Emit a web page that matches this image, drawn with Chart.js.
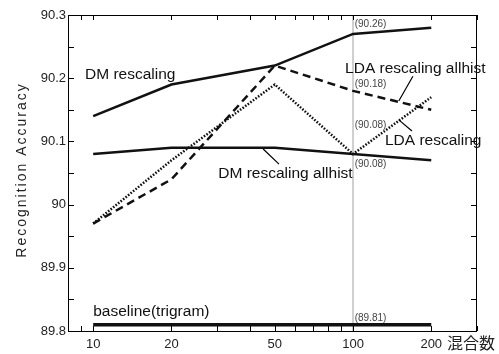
<!DOCTYPE html>
<html>
<head>
<meta charset="utf-8">
<script src="https://cdn.jsdelivr.net/npm/chart.js@4.4.1/dist/chart.umd.min.js"></script>
<style>
  html, body { margin: 0; padding: 0; background: #fff; }
  #wrap { width: 499px; height: 354px; }
</style>
</head>
<body>
<div id="wrap"><canvas id="chart"></canvas></div>
<script>
// mixture counts (x, log scale)
const mixtures = [10, 20, 50, 100, 200];

// recognition accuracy per method
const dmRescaling = [90.14, 90.19, 90.22, 90.27, 90.28];
const dmRescalingAllhist = [90.08, 90.09, 90.09, 90.08, 90.07];
const ldaRescaling = [89.97, 90.07, 90.19, 90.08, 90.17];
const ldaRescalingAllhist = [89.97, 90.04, 90.22, 90.18, 90.15];
const baseline = [89.81, 89.81, 89.81, 89.81, 89.81];

// ticks
const xTicks = [8, 9, 10, 20, 30, 40, 50, 60, 70, 80, 90, 100, 200, 300];
const xTickLabels = [10, 20, 50, 100, 200];
const yTicks = [89.8, 89.85, 89.9, 89.95, 90, 90.05, 90.1, 90.15, 90.2, 90.25, 90.3];
const yTickLabels = ['89.8', '89.9', '90', '90.1', '90.2', '90.3'];

// value notes at 100 mixtures
const notes = ['(90.26)', '(90.18)', '(90.08)', '(90.08)', '(89.81)'];

const pts = (ys) => mixtures.map((m, i) => ({ x: m, y: ys[i] }));

// label anchors in data units
const seriesLabels = [
  { text: 'DM rescaling', x: 9.3, y: 90.199 },
  { text: 'LDA rescaling allhist', x: 93.2, y: 90.208 },
  { text: 'LDA rescaling', x: 132.7, y: 90.094 },
  { text: 'DM rescaling allhist', x: 30.3, y: 90.042 },
  { text: 'baseline(trigram)', x: 10, y: 89.824 },
];
const noteAnchors = [
  { x: 101.5, y: 90.281 },
  { x: 101.5, y: 90.186 },
  { x: 101.5, y: 90.121 },
  { x: 101.5, y: 90.059 },
  { x: 101.5, y: 89.816 },
];
const leaders = [
  [[170, 90.203], [150, 90.164]],
  [[150, 90.134], [168.6, 90.1165]],
  [[45.1, 90.088], [51.9, 90.064]],
];

const FONT = '"Liberation Sans", Arial, sans-serif';

const decorations = {
  id: 'decorations',
  beforeDatasetsDraw(chart) {
    const { ctx, chartArea: a, scales: { x } } = chart;
    const px = x.getPixelForValue(100);
    ctx.save();
    ctx.strokeStyle = '#cfcfcf';
    ctx.lineWidth = 2;
    ctx.beginPath();
    ctx.moveTo(px, a.top);
    ctx.lineTo(px, a.bottom);
    ctx.stroke();
    ctx.restore();
  },
  afterDatasetsDraw(chart) {
    const { ctx, chartArea: a, scales: { x, y } } = chart;
    ctx.save();

    // frame + inward ticks
    ctx.strokeStyle = '#000';
    ctx.lineWidth = 1;
    ctx.strokeRect(a.left + 0.5, a.top + 0.5, a.right - a.left - 1, a.bottom - a.top);
    ctx.beginPath();
    x.ticks.forEach(t => {
      const px = Math.round(x.getPixelForValue(t.value)) + 0.5;
      ctx.moveTo(px, a.bottom); ctx.lineTo(px, a.bottom - 5);
      ctx.moveTo(px, a.top); ctx.lineTo(px, a.top + 5);
    });
    y.ticks.forEach(t => {
      const py = Math.round(y.getPixelForValue(t.value)) + 0.5;
      ctx.moveTo(a.left, py); ctx.lineTo(a.left + 6, py);
      ctx.moveTo(a.right, py); ctx.lineTo(a.right - 6, py);
    });
    ctx.stroke();

    // leader lines
    ctx.lineWidth = 1.2;
    ctx.beginPath();
    leaders.forEach(([p, q]) => {
      ctx.moveTo(x.getPixelForValue(p[0]), y.getPixelForValue(p[1]));
      ctx.lineTo(x.getPixelForValue(q[0]), y.getPixelForValue(q[1]));
    });
    ctx.stroke();

    // series labels
    ctx.fillStyle = '#111';
    ctx.font = '15.5px ' + FONT;
    ctx.textBaseline = 'alphabetic';
    ctx.textAlign = 'left';
    seriesLabels.forEach(l => {
      ctx.fillText(l.text, x.getPixelForValue(l.x), y.getPixelForValue(l.y));
    });

    // value notes
    ctx.fillStyle = '#444';
    ctx.font = '10px ' + FONT;
    notes.forEach((n, i) => {
      ctx.fillText(n, x.getPixelForValue(noteAnchors[i].x), y.getPixelForValue(noteAnchors[i].y));
    });

    // axis titles
    ctx.fillStyle = '#222';
    ctx.font = '16px "Noto Sans CJK JP", sans-serif';
    ctx.fillText('混合数', a.right - 30, chart.height - 5);

    ctx.font = '14px ' + FONT;
    ctx.letterSpacing = '2px';
    ctx.translate(26, (a.top + a.bottom) / 2 - 3);
    ctx.rotate(-Math.PI / 2);
    ctx.textAlign = 'center';
    ctx.fillText('Recognition Accuracy', 0, 0);
    ctx.restore();
  }
};

const lineStyle = { borderColor: '#111', borderWidth: 2.5, pointRadius: 0, tension: 0, fill: false };

new Chart(document.getElementById('chart'), {
  type: 'line',
  data: {
    datasets: [
      { label: 'DM rescaling', data: pts(dmRescaling), ...lineStyle },
      { label: 'DM rescaling allhist', data: pts(dmRescalingAllhist), ...lineStyle },
      { label: 'LDA rescaling', data: pts(ldaRescaling), ...lineStyle, borderDash: [1.6, 1.6] },
      { label: 'LDA rescaling allhist', data: pts(ldaRescalingAllhist), ...lineStyle, borderDash: [8, 5] },
      { label: 'baseline(trigram)', data: pts(baseline), ...lineStyle, borderWidth: 3.5 },
    ],
  },
  options: {
    responsive: true,
    maintainAspectRatio: false,
    animation: false,
    layout: { padding: { left: 0, top: 15, right: 22, bottom: 0 } },
    plugins: { legend: { display: false }, tooltip: { enabled: false } },
    scales: {
      x: {
        type: 'logarithmic',
        min: 8,
        max: 300,
        grid: { display: false, drawTicks: false },
        border: { display: false },
        afterBuildTicks: (s) => { s.ticks = xTicks.map(v => ({ value: v })); },
        afterFit: (s) => { s.height = 23; },
        ticks: {
          autoSkip: false,
          maxRotation: 0,
          padding: 6,
          color: '#222',
          font: { family: FONT, size: 13 },
          callback: (v) => (xTickLabels.includes(v) ? String(v) : ''),
        },
      },
      y: {
        min: 89.8,
        max: 90.3,
        grid: { display: false, drawTicks: false },
        border: { display: false },
        afterBuildTicks: (s) => { s.ticks = yTicks.map(v => ({ value: v })); },
        afterFit: (s) => { s.width = 68; },
        ticks: {
          autoSkip: false,
          padding: 2,
          color: '#222',
          font: { family: FONT, size: 13 },
          callback: (v) => {
            const lbl = String(Math.round(v * 100) / 100);
            return yTickLabels.includes(lbl) ? lbl : '';
          },
        },
      },
    },
  },
  plugins: [decorations],
});
</script>
</body>
</html>
